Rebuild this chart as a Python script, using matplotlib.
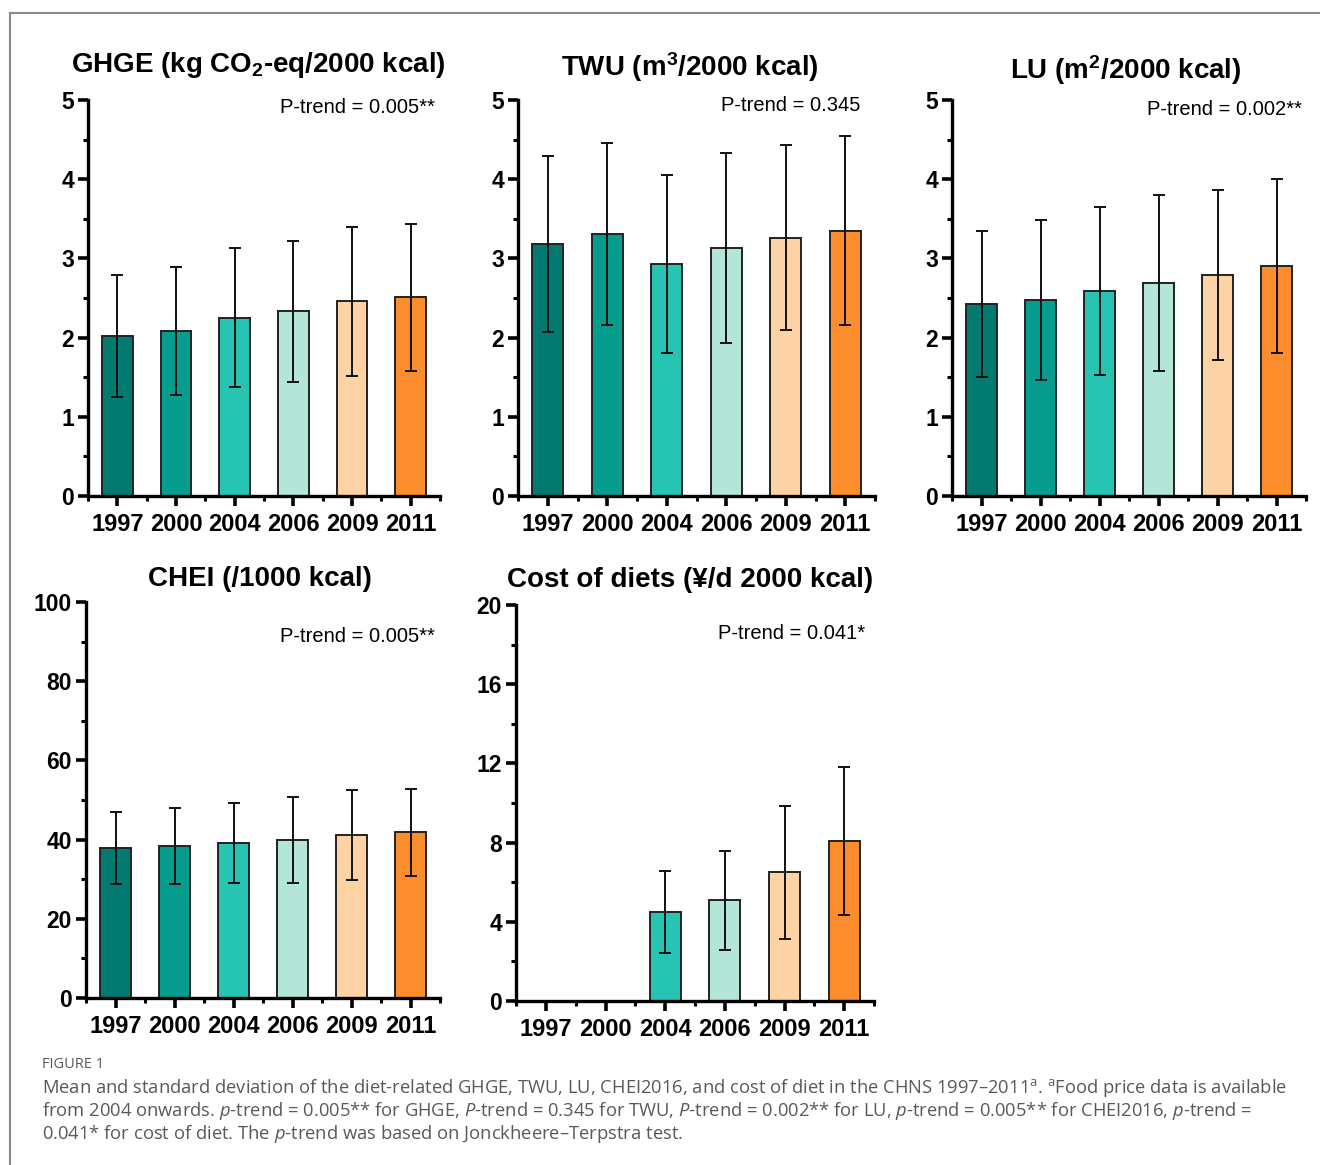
import matplotlib
matplotlib.use("Agg")
import matplotlib.pyplot as plt
import numpy as np
from matplotlib.lines import Line2D
from matplotlib.ticker import MultipleLocator

plt.rcParams["font.family"] = ["Liberation Sans", "DejaVu Sans"]
plt.rcParams["mathtext.fontset"] = "custom"
plt.rcParams["mathtext.rm"] = "Open Sans"
plt.rcParams["mathtext.it"] = "Open Sans:italic"
plt.rcParams["mathtext.bf"] = "Liberation Sans:bold"

# --- data ---
years = ["1997", "2000", "2004", "2006", "2009", "2011"]
colors = ["#037a6f", "#069d8f", "#27c3b3", "#b3e6d9", "#fdd3a5", "#fb8d2d"]

ghge_mean = [2.02, 2.08, 2.25, 2.33, 2.46, 2.51]
ghge_sd = [0.77, 0.81, 0.88, 0.89, 0.94, 0.93]

twu_mean = [3.18, 3.31, 2.93, 3.13, 3.26, 3.35]
twu_sd = [1.11, 1.15, 1.12, 1.20, 1.17, 1.19]

lu_mean = [2.42, 2.47, 2.59, 2.69, 2.79, 2.90]
lu_sd = [0.92, 1.01, 1.06, 1.11, 1.07, 1.10]

chei_mean = [37.9, 38.4, 39.1, 39.9, 41.2, 41.9]
chei_sd = [9.1, 9.6, 10.1, 10.9, 11.3, 11.0]

cost_mean = [np.nan, np.nan, 4.50, 5.10, 6.50, 8.08]
cost_sd = [np.nan, np.nan, 2.07, 2.50, 3.35, 3.72]

W, H = 1320, 1165
fig = plt.figure(figsize=(W / 100, H / 100), dpi=100)


def fx(x):
    return x / W


def fy(y):
    return 1 - y / H


def panel(left, right, y0, ytop, means, sds, ymax, ystep, title, tx, ty, ptext, px, py):
    ax = fig.add_axes([fx(left), fy(y0), fx(right - left), (y0 - ytop) / H])
    x = np.arange(len(years))
    ax.bar(x, means, width=0.52, color=colors, edgecolor="#222222", linewidth=1.4, zorder=2)
    ax.errorbar(x, means, yerr=sds, fmt="none", ecolor="#111111", elinewidth=1.4,
                capsize=4, capthick=1.4, zorder=3)
    ax.set_xlim(-0.5, 5.5)
    ax.set_ylim(0, ymax)
    ax.set_xticks(x)
    ax.set_xticklabels(years, fontsize=17, fontweight="bold")
    ax.xaxis.set_minor_locator(MultipleLocator(1, offset=0.5))
    ax.yaxis.set_major_locator(MultipleLocator(ystep))
    ax.yaxis.set_minor_locator(MultipleLocator(ystep / 2))
    for lab in ax.get_yticklabels():
        lab.set_fontsize(16.5)
        lab.set_fontweight("bold")
    ax.tick_params(which="major", length=7, width=2.6, color="black", pad=3)
    ax.tick_params(axis="x", which="major", pad=5)
    ax.tick_params(which="minor", length=3.5, width=2.2, color="black")
    for s in ["top", "right"]:
        ax.spines[s].set_visible(False)
    for s in ["left", "bottom"]:
        ax.spines[s].set_linewidth(2.4)
    ax.text(px, py, ptext, transform=ax.transAxes, ha="right", va="center", fontsize=14.5)
    fig.text(fx(tx), fy(ty), title, ha="center", va="center", fontsize=20, fontweight="bold")
    return ax


panel(88, 440, 496, 100, ghge_mean, ghge_sd, 5, 1,
      r"GHGE (kg CO$_{\mathbf{2}}$-eq/2000 kcal)", 258, 65, "P-trend = 0.005**", 0.986, 0.982)
panel(518, 875, 496, 100, twu_mean, twu_sd, 5, 1,
      r"TWU (m$^{\mathbf{3}}$/2000 kcal)", 690, 67, "P-trend = 0.345", 0.958, 0.985)
panel(952, 1306, 496, 100, lu_mean, lu_sd, 5, 1,
      r"LU (m$^{\mathbf{2}}$/2000 kcal)", 1126, 70, "P-trend = 0.002**", 0.989, 0.975)
panel(86, 440, 998, 602, chei_mean, chei_sd, 100, 20,
      "CHEI (/1000 kcal)", 260, 579, "P-trend = 0.005**", 0.986, 0.912)
panel(516, 874, 1001, 605, cost_mean, cost_sd, 20, 4,
      "Cost of diets (¥/d 2000 kcal)", 690, 580, "P-trend = 0.041*", 0.975, 0.929)

# outer frame (left and top edges)
fig.add_artist(Line2D([fx(10), fx(10)], [fy(13), 0], color="#8a8a8a", lw=1.5))
fig.add_artist(Line2D([fx(10), 1], [fy(13), fy(13)], color="#8a8a8a", lw=1.5))

# caption
cap_color = "#595959"
fig.text(fx(42), fy(1065), "FIGURE 1", fontsize=10.5, color=cap_color, family="Open Sans",
         va="center")
lines = [
    r"Mean and standard deviation of the diet-related GHGE, TWU, LU, CHEI2016, and cost of diet in the CHNS 1997–2011$^{\mathrm{a}}$. $^{\mathrm{a}}$Food price data is available",
    r"from 2004 onwards. $\mathit{p}$-trend = 0.005** for GHGE, $\mathit{P}$-trend = 0.345 for TWU, $\mathit{P}$-trend = 0.002** for LU, $\mathit{p}$-trend = 0.005** for CHEI2016, $\mathit{p}$-trend =",
    r"0.041* for cost of diet. The $\mathit{p}$-trend was based on Jonckheere–Terpstra test.",
]
for i, t in enumerate(lines):
    fig.text(fx(42), fy(1088 + 23 * i), t, fontsize=13.2, color=cap_color, family="Open Sans",
             va="center")

fig.savefig("out.png", dpi=100)
